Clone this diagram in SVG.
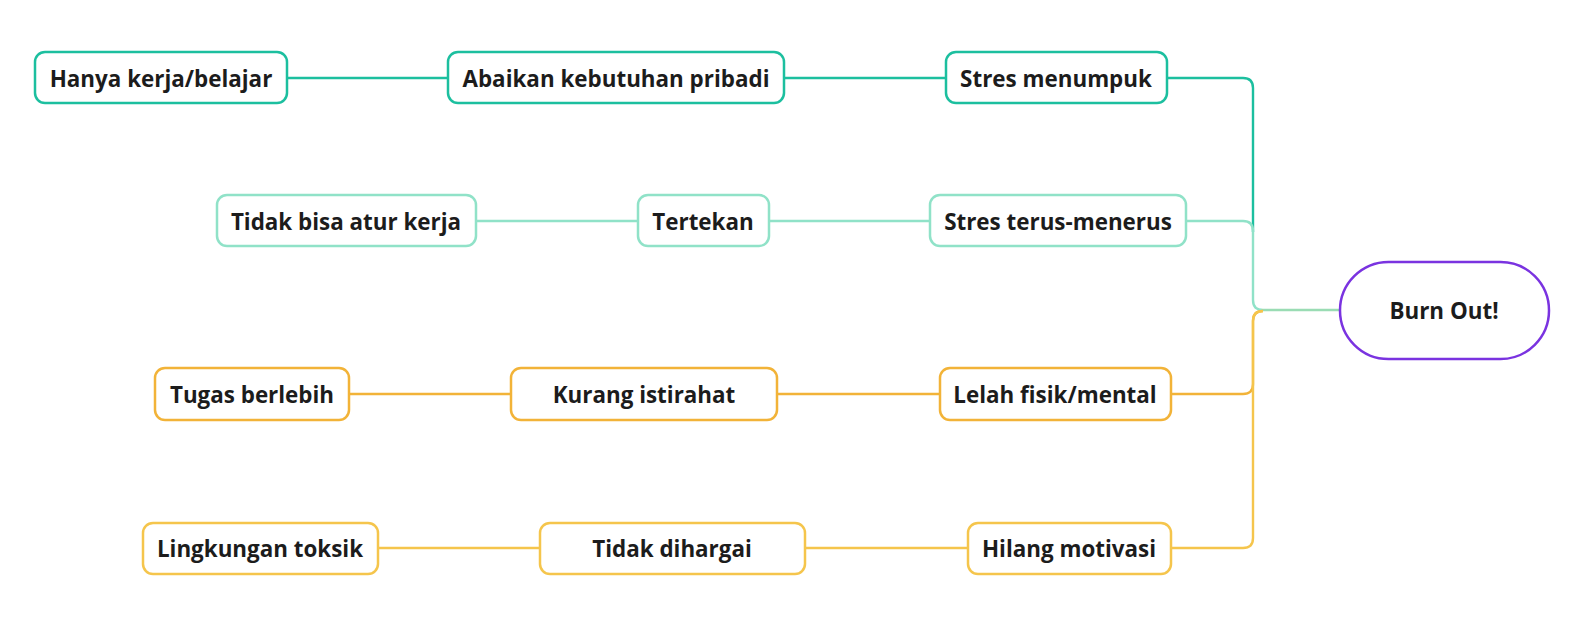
<svg xmlns="http://www.w3.org/2000/svg" width="1591" height="628" viewBox="0 0 1591 628">
<style>
.box{fill:#fff;stroke-width:2.5}
.t{font-family:"Open Sans","Liberation Sans",sans-serif;font-weight:700;font-size:22.4px;fill:#1c1c1c;text-anchor:middle;dominant-baseline:central}
.c{fill:none;stroke-width:2.4}
.dt{stroke:#1cbf9f}.lt{stroke:#90e2c8}.or{stroke:#f2b338}.ye{stroke:#f5c54c}
</style>
<rect width="1591" height="628" fill="#fff"/>
<g id="connectors">
<path class="c dt" d="M288 78H448M784 78H946M1167 78H1243Q1253 78 1253 88V232"/>
<path class="c lt" d="M476 221H638M769 221H930M1186 221H1243Q1253 221 1253 231V300Q1253 310 1263 310"/>
<path d="M1263 310H1340" fill="none" stroke="#9adcb4" stroke-width="2.4"/>
<path class="c or" d="M349 394H511M777 394H940M1171 394H1243Q1253 394 1253 384V321Q1253 311 1263 311"/>
<path class="c ye" d="M378 548H540M805 548H968M1171 548H1243Q1253 548 1253 538V321Q1253 311 1263 311"/>
</g>
<g id="n1"><rect class="box dt" x="35" y="52" width="252" height="51" rx="10"/><text class="t" x="161" y="78">Hanya kerja/belajar</text></g>
<g id="n2"><rect class="box dt" x="448" y="52" width="336" height="51" rx="10"/><text class="t" x="616" y="78">Abaikan kebutuhan pribadi</text></g>
<g id="n3"><rect class="box dt" x="946" y="52" width="221" height="51" rx="10"/><text class="t" x="1056" y="78">Stres menumpuk</text></g>
<g id="n4"><rect class="box lt" x="217" y="195" width="259" height="51" rx="10"/><text class="t" x="346" y="221">Tidak bisa atur kerja</text></g>
<g id="n5"><rect class="box lt" x="638" y="195" width="131" height="51" rx="10"/><text class="t" x="703" y="221">Tertekan</text></g>
<g id="n6"><rect class="box lt" x="930" y="195" width="256" height="51" rx="10"/><text class="t" x="1058" y="221">Stres terus-menerus</text></g>
<g id="n7"><rect class="box or" x="155" y="368" width="194" height="52" rx="10"/><text class="t" x="252" y="394">Tugas berlebih</text></g>
<g id="n8"><rect class="box or" x="511" y="368" width="266" height="52" rx="10"/><text class="t" x="644" y="394">Kurang istirahat</text></g>
<g id="n9"><rect class="box or" x="940" y="368" width="231" height="52" rx="10"/><text class="t" x="1055" y="394">Lelah fisik/mental</text></g>
<g id="n10"><rect class="box ye" x="143" y="523" width="235" height="51" rx="10"/><text class="t" x="260" y="548">Lingkungan toksik</text></g>
<g id="n11"><rect class="box ye" x="540" y="523" width="265" height="51" rx="10"/><text class="t" x="672" y="548">Tidak dihargai</text></g>
<g id="n12"><rect class="box ye" x="968" y="523" width="203" height="51" rx="10"/><text class="t" x="1069" y="548">Hilang motivasi</text></g>
<g id="burnout"><rect x="1340" y="262" width="209" height="97" rx="48.5" fill="#fff" stroke="#7a33e0" stroke-width="2.5"/><text class="t" x="1444" y="310">Burn Out!</text></g>
</svg>
